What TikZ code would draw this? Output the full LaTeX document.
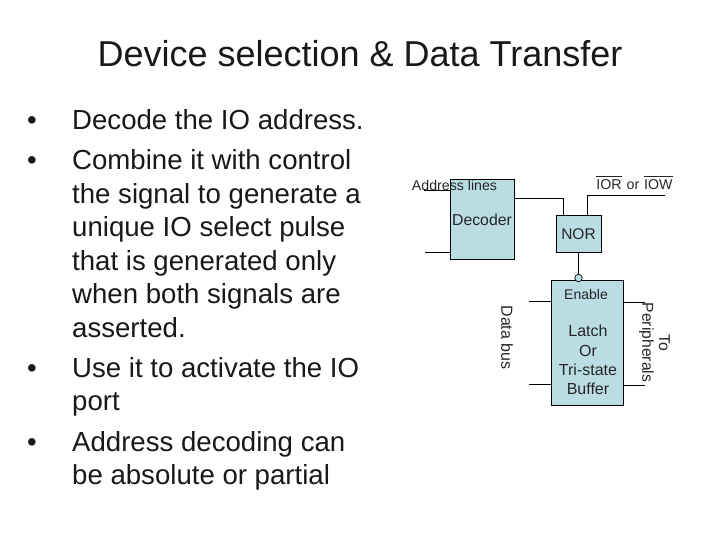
\documentclass[tikz,border=0pt]{standalone}
\usepackage{fontspec}
\setmainfont{Liberation Sans}
\newcommand{\ovlt}[1]{\vbox{\hrule height .9pt\kern 3.6pt\hbox{#1}}}
\newcommand{\fsz}[1]{\fontsize{#1}{#1}\selectfont}
\tikzset{
  x=1pt,y=-1pt,
  block/.style={draw=black,fill=boxblue,line width=.9pt,inner sep=0pt,anchor=north west},
  wire/.style={draw=black,line width=.8pt},
  titletext/.style={anchor=base,inner sep=0pt,font=\fsz{36}},
  bodytext/.style={anchor=base west,inner sep=0pt,font=\fsz{27.6},text=black!90},
  smalltext/.style={anchor=center,inner sep=0pt,align=center,text=black!85},
}
\definecolor{boxblue}{HTML}{B9DDE2}
\begin{document}
\begin{tikzpicture}
\useasboundingbox (0,0) rectangle (720,540);
\fill[white] (0,0) rectangle (720,540);
\node[titletext,text=black!90] (title) at (360,67) {Device selection \& Data Transfer};
% body
\node[bodytext] (b1) at (27,130) {•};
\node[bodytext] (l1) at (72,130) {Decode the IO address.};
\node[bodytext] (b2) at (27,170) {•};
\node[bodytext] (l2) at (72,170) {Combine it with control};
\node[bodytext] (l3) at (72,203.5) {the signal to generate a};
\node[bodytext] (l4) at (72,236.5) {unique IO select pulse};
\node[bodytext] (l5) at (72,270) {that is generated only};
\node[bodytext] (l6) at (72,303.5) {when both signals are};
\node[bodytext] (l7) at (72,337) {asserted.};
\node[bodytext] (b3) at (27,377) {•};
\node[bodytext] (l8) at (72,377) {Use it to activate the IO};
\node[bodytext] (l9) at (72,410.5) {port};
\node[bodytext] (b4) at (27,451) {•};
\node[bodytext] (l10) at (72,451) {Address decoding can};
\node[bodytext] (l11) at (72,484.5) {be absolute or partial};
% free ends
\coordinate (a1) at (424,190.5);
\coordinate (a2) at (425,252);
\coordinate (iow) at (665,195);
\coordinate (d1) at (529,301.5);
\coordinate (d2) at (529,384);
\coordinate (p1) at (645,302.5);
\coordinate (p2) at (645,385);
% boxes
\node[block,minimum width=64pt,minimum height=80pt] (dec) at (450,179) {};
\node[block,minimum width=45pt,minimum height=37pt] (nor) at (556,215) {};
\node[block,minimum width=72pt,minimum height=125pt] (latch) at (551,280) {};
\node[draw=black,fill=boxblue,line width=.7pt,circle,minimum size=7.5pt,inner sep=0pt] (en) at (578.5,278) {};
% connectors
\draw[wire] (a1) -- (a1 -| dec.west);
\draw[wire] (a2) -- (a2 -| dec.west);
\draw[wire] (dec.east |- 0,198) -| (563.5,215);
\draw[wire] (iow) -| (587,215);
\draw[wire] (nor.south -| en) -- (en.north);
\draw[wire] (d1) -- (d1 -| latch.west);
\draw[wire] (d2) -- (d2 -| latch.west);
\draw[wire] (p1) -- (p1 -| latch.east);
\draw[wire] (p2) -- (p2 -| latch.east);
% labels
\node[smalltext,font=\fsz{14.2}] (addr) at (454.5,185.5) {Address lines};
\node[smalltext,font=\fsz{15.8}] (dect) at (482,220) {Decoder};
\node[smalltext,font=\fsz{15.5}] (nort) at (578.5,234) {NOR};
\node[smalltext,font=\fsz{14.2},anchor=base] (iot) at (634.5,190) {\ovlt{IOR}\kern 5pt or\kern 5pt\ovlt{IOW}};
\node[smalltext,font=\fsz{14}] (ent) at (586,294) {Enable};
\node[smalltext,font=\fsz{16}] (lat) at (588,360) {Latch\\[3.2pt]Or\\[3.2pt]Tri-state\\[3.2pt]Buffer};
\node[smalltext,font=\fsz{16},rotate=-90] (dbus) at (507,337.5) {Data bus};
\node[smalltext,font=\fsz{15.7},rotate=-90] (per) at (654.5,342.5) {To\\[1pt]Peripherals};
\end{tikzpicture}
\end{document}
